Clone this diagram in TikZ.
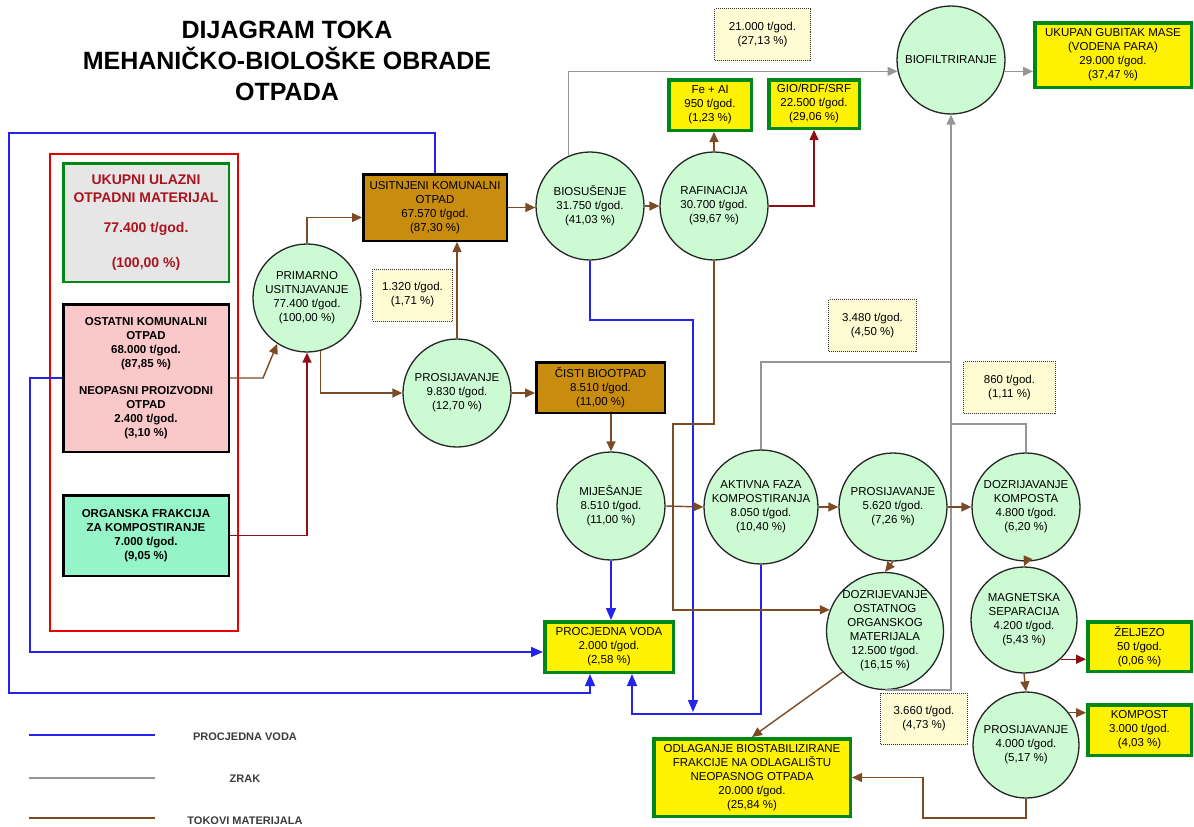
\documentclass[tikz,border=0pt]{standalone}
\usepackage{fontspec}
\setmainfont{Liberation Sans}
\usetikzlibrary{arrows.meta}
\definecolor{circfill}{RGB}{204,250,210}
\definecolor{boxgreen}{RGB}{0,135,20}
\definecolor{goldfill}{RGB}{200,140,15}
\definecolor{pinkfill}{RGB}{250,200,200}
\definecolor{aquafill}{RGB}{150,245,200}
\definecolor{grayfill}{RGB}{230,230,230}
\definecolor{notefill}{RGB}{255,252,212}
\definecolor{matbrown}{RGB}{125,75,35}
\definecolor{flowred}{RGB}{145,15,20}
\definecolor{waterblue}{RGB}{35,35,235}
\definecolor{airgray}{RGB}{150,150,150}
\definecolor{titlered}{RGB}{170,20,30}
\definecolor{framered}{RGB}{235,0,0}
\definecolor{legtext}{RGB}{60,60,60}
\begin{document}
\begin{tikzpicture}[x=1pt,y=-1pt,
  every node/.style={font=\fontsize{11.5}{14}\selectfont, align=center, inner sep=0pt},
  proc/.style={circle, draw=black!85, line width=1.3pt, fill=circfill, minimum size=108pt},
  outbox/.style={rectangle, draw=boxgreen, line width=3.5pt, fill=yellow},
  goldbox/.style={rectangle, draw=black, line width=2.5pt, fill=goldfill},
  notebox/.style={rectangle, draw=black!80, densely dotted, line width=1pt, fill=notefill},
  inbox/.style={rectangle, draw=black, line width=2.5pt, font=\bfseries\fontsize{11.5}{14}\selectfont},
  mat/.style={draw=matbrown, line width=1.4pt, -{Triangle[length=10pt,width=9pt]}},
  redflow/.style={draw=flowred, line width=1.4pt, -{Triangle[length=10pt,width=9pt]}},
  water/.style={draw=waterblue, line width=1.4pt, -{Triangle[length=12pt,width=10pt]}},
  air/.style={draw=airgray, line width=1.4pt, -{Triangle[length=10pt,width=9pt]}},
  legend/.style={font=\bfseries\fontsize{11}{13}\selectfont, text=legtext}
]
\useasboundingbox (0,0) rectangle (1194,827);

% title
\node[font=\bfseries\fontsize{25}{31}\selectfont] (title) at (287,61)
  {DIJAGRAM TOKA\\MEHANIČKO-BIOLOŠKE OBRADE\\OTPADA};

% input frame
\draw[framered, line width=2pt] (50,154) rectangle (238,631);
\node[rectangle, draw=boxgreen, line width=2.5pt, fill=grayfill, minimum width=165.5pt, minimum height=118.5pt,
      text=titlered, font=\bfseries\fontsize{14}{18}\selectfont] (ukupni) at (146,222.5)
  {UKUPNI ULAZNI\\OTPADNI MATERIJAL\\[12pt]77.400 t/god.\\[17pt](100,00 \%)};
\node[inbox, fill=pinkfill, minimum width=165.5pt, minimum height=147.5pt] (ostatni) at (146,378)
  {OSTATNI KOMUNALNI\\OTPAD\\68.000 t/god.\\(87,85 \%)\\[13pt]NEOPASNI PROIZVODNI\\OTPAD\\2.400 t/god.\\(3,10 \%)};
\node[inbox, fill=aquafill, minimum width=165.5pt, minimum height=80.5pt] (organska) at (146,535.5)
  {ORGANSKA FRAKCIJA\\ZA KOMPOSTIRANJE\\7.000 t/god.\\(9,05 \%)};

% process circles
\node[proc] (primarno) at (307,298) {PRIMARNO\\USITNJAVANJE\\77.400 t/god.\\(100,00 \%)};
\node[proc] (bios) at (590,206) {BIOSUŠENJE\\31.750 t/god.\\(41,03 \%)};
\node[proc] (raf) at (714,206) {RAFINACIJA\\30.700 t/god.\\(39,67 \%)};
\node[proc] (biof) at (951,60) {BIOFILTRIRANJE};
\node[proc] (prosij1) at (457,393) {PROSIJAVANJE\\9.830 t/god.\\(12,70 \%)};
\node[proc] (mij) at (611,506) {MIJEŠANJE\\8.510 t/god.\\(11,00 \%)};
\node[proc, minimum size=114pt] (akt) at (761,507) {AKTIVNA FAZA\\KOMPOSTIRANJA\\8.050 t/god.\\(10,40 \%)};
\node[proc] (pros2) at (893,507) {PROSIJAVANJE\\5.620 t/god.\\(7,26 \%)};
\node[proc] (dozk) at (1026,507) {DOZRIJAVANJE\\KOMPOSTA\\4.800 t/god.\\(6,20 \%)};
\node[proc, minimum size=114pt] (dozost) at (885,631) {DOZRIJEVANJE\\OSTATNOG\\ORGANSKOG\\MATERIJALA\\12.500 t/god.\\(16,15 \%)};
\node[proc, minimum size=106pt] (mag) at (1024,620) {MAGNETSKA\\SEPARACIJA\\4.200 t/god.\\(5,43 \%)};
\node[proc, minimum size=106pt] (pros3) at (1026,745) {PROSIJAVANJE\\4.000 t/god.\\(5,17 \%)};

% gold boxes
\node[goldbox, minimum width=143.5pt, minimum height=66.5pt] (usit) at (435,207.5)
  {USITNJENI KOMUNALNI\\OTPAD\\67.570 t/god.\\(87,30 \%)};
\node[goldbox, minimum width=128.5pt, minimum height=50.5pt] (cisti) at (600.5,387.5)
  {ČISTI BIOOTPAD\\8.510 t/god.\\(11,00 \%)};

% output boxes
\node[outbox, minimum width=82.5pt, minimum height=50.5pt] (feal) at (710,105) {Fe + Al\\950 t/god.\\(1,23 \%)};
\node[outbox, minimum width=90.5pt, minimum height=48.5pt] (gio) at (814,104) {GIO/RDF/SRF\\22.500 t/god.\\(29,06 \%)};
\node[outbox, minimum width=156.5pt, minimum height=64.5pt] (ukupan) at (1113,55)
  {UKUPAN GUBITAK MASE\\(VODENA PARA)\\29.000 t/god.\\(37,47 \%)};
\node[outbox, minimum width=103.5pt, minimum height=49.5pt] (zel) at (1139.5,646.5) {ŽELJEZO\\50 t/god.\\(0,06 \%)};
\node[outbox, minimum width=103.5pt, minimum height=50.5pt] (kompost) at (1139.5,730) {KOMPOST\\3.000 t/god.\\(4,03 \%)};
\node[outbox, minimum width=196.5pt, minimum height=77.5pt] (odl) at (752,777.5)
  {ODLAGANJE BIOSTABILIZIRANE\\FRAKCIJE NA ODLAGALIŠTU\\NEOPASNOG OTPADA\\20.000 t/god.\\(25,84 \%)};
\node[outbox, minimum width=128.5pt, minimum height=50.5pt] (procj) at (609,647) {PROCJEDNA VODA\\2.000 t/god.\\(2,58 \%)};

% note boxes
\node[notebox, minimum width=96pt, minimum height=52pt] (n21) at (762.5,34.5) {21.000 t/god.\\(27,13 \%)};
\node[notebox, minimum width=88pt, minimum height=52pt] (n348) at (872.5,325.5) {3.480 t/god.\\(4,50 \%)};
\node[notebox, minimum width=92pt, minimum height=52pt] (n860) at (1009.5,387.5) {860 t/god.\\(1,11 \%)};
\node[notebox, minimum width=87pt, minimum height=51pt] (n366) at (924,719) {3.660 t/god.\\(4,73 \%)};
\node[notebox, minimum width=80pt, minimum height=52pt] (n132) at (412.5,295) {1.320 t/god.\\(1,71 \%)};

% water (blue)
\coordinate (wj) at (693,712);
\draw[water] (usit.north) |- (9,133) -- (9,693) -| ([xshift=-19pt]procj.south);
\draw[water] (ostatni.west) -| (30,652) -- ([yshift=-5pt]procj.west);
\draw[water] (mij.south) -- (mij.south |- procj.north);
\draw[water] (bios.south) |- (693,320) -- (wj);
\draw[water] (akt.south) |- (632,714) -- ([xshift=23pt]procj.south);

% air (gray)
\draw[air] (bios.113) |- (biof.192);
\draw[air] (biof.-12) -- (biof.-12 -| ukupan.west);
\draw[air] (dozost.south) -| (biof.south);
\draw[air,-] (akt.north) |- (951,362);
\draw[air,-] (dozk.north) |- (951,424);

% material flows
\draw[mat] (ostatni.east) -- ++(33,0) -- (primarno.237);
\draw[redflow] (organska.east) -| (primarno.south);
\draw[mat] (primarno.north) |- ([yshift=-10pt]usit.west);
\draw[mat] (primarno.-76) |- (prosij1.west);
\draw[mat] (prosij1.north) -- (prosij1.north |- usit.south);
\draw[mat] (usit.east) -- (usit.east -| bios.west);
\draw[mat] (bios.east) -- (raf.west);
\draw[mat] (raf.north) -- (raf.north |- feal.south);
\draw[redflow] (raf.east) -| (gio.south);
\draw[mat] (raf.south) |- (673,424) |- (dozost.159);
\draw[mat] (prosij1.east) -- (prosij1.east -| cisti.west);
\draw[mat] (mij.north |- cisti.south) -- (mij.north);
\draw[mat] (mij.east) -- (akt.west);
\draw[mat] (akt.east) -- (pros2.west);
\draw[mat] (pros2.east) -- (dozk.west);
\draw[mat] (pros2.south) -- (dozost.north);
\draw[mat] (dozk.south) -- (mag.north);
\draw[redflow] (mag.-47) -- (mag.-47 -| zel.west);
\draw[mat] (mag.south) -- (pros3.north);
\draw[mat] (pros3.37) -- (pros3.37 -| kompost.west);
\draw[mat] (pros3.south) |- (923,818) |- (odl.east);
\draw[mat] (dozost.224) -- (odl.north);

% legend
\draw[waterblue, line width=1.4pt] (29,735) -- (155,735);
\node[legend] (lg1) at (245,737) {PROCJEDNA VODA};
\draw[airgray, line width=1.4pt] (29,778) -- (155,778);
\node[legend] (lg2) at (245,779) {ZRAK};
\draw[matbrown, line width=1.4pt] (29,818) -- (155,818);
\node[legend] (lg3) at (245,821) {TOKOVI MATERIJALA};
\end{tikzpicture}
\end{document}
